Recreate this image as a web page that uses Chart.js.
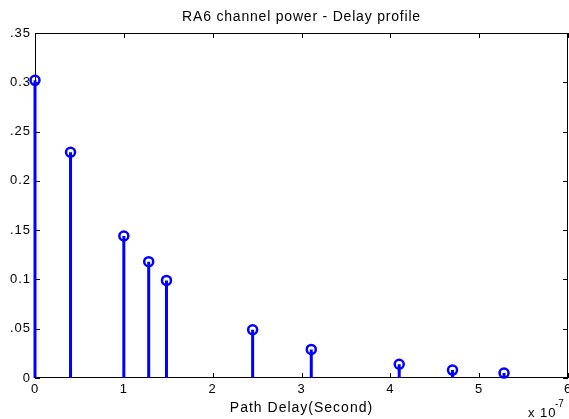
<!DOCTYPE html>
<html lang="en">
<head>
    <meta charset="UTF-8">
    <script src="https://cdn.jsdelivr.net/npm/chart.js@4.4.0/dist/chart.umd.min.js"></script>
    <title>RA6 channel power - Delay profile</title>
    <style>
        html, body {margin: 0; padding: 0; background: #fff;}
        #wrap {width: 569px; height: 419px;}
    </style>
</head>
<body>
    <div id="wrap">
        <canvas id="chart" width="569" height="419"></canvas>
    </div>

    <script>
    // path delays (units of 1e-7 s) and their powers
    const delays = [0, 0.4, 1.0, 1.28, 1.48, 2.45, 3.11, 4.10, 4.70, 5.28];
    const powers = [0.302, 0.229, 0.144, 0.118, 0.099, 0.049, 0.029, 0.014, 0.008, 0.005];

    const yTickLabels = ['0', '.05', '0.1', '.15', '0.2', '.25', '0.3', '.35'];
    const xTickLabels = ['0', '1', '2', '3', '4', '5', '6'];

    const titleText = 'RA6 channel power - Delay profile';
    const xLabelText = 'Path Delay(Second)';

    const FONT = 'Arial, "Liberation Sans", sans-serif';

    // stems: vertical segments separated by null gaps
    let stemData = [];
    let markData = [];
    for (let i = 0; i < delays.length; i++) {
        stemData.push({x: delays[i], y: 0});
        stemData.push({x: delays[i], y: powers[i]});
        stemData.push({x: delays[i], y: null});
        markData.push({x: delays[i], y: powers[i]});
    }

    const frame = {
        id: 'frame',
        beforeDraw(chart) {
            // the source picture is a bit stretched sideways
            chart.ctx.letterSpacing = '1px';
        },
        beforeDatasetsDraw(chart) {
            const c = chart.ctx;
            const a = chart.chartArea;
            const xs = chart.scales.x, ys = chart.scales.y;
            c.save();
            c.strokeStyle = '#000';
            c.lineWidth = 1;
            c.strokeRect(a.left + 0.5, a.top + 0.5, a.right - a.left - 1, a.bottom - a.top - 1);
            c.beginPath();
            xs.ticks.forEach(t => {
                const px = Math.round(xs.getPixelForValue(t.value)) + 0.5;
                c.moveTo(px, a.bottom); c.lineTo(px, a.bottom - 5);
                c.moveTo(px, a.top); c.lineTo(px, a.top + 5);
            });
            ys.ticks.forEach(t => {
                const py = Math.round(ys.getPixelForValue(t.value)) + 0.5;
                c.moveTo(a.left, py); c.lineTo(a.left + 5, py);
                c.moveTo(a.right, py); c.lineTo(a.right - 5, py);
            });
            c.stroke();
            c.restore();
        },
        afterDraw(chart) {
            const c = chart.ctx;
            const a = chart.chartArea;
            const mid = (a.left + a.right) / 2;
            c.save();
            c.fillStyle = '#000';
            c.textAlign = 'center';
            c.textBaseline = 'middle';
            c.font = '14px ' + FONT;
            c.letterSpacing = '0.8px';
            c.fillText(titleText, mid, 17);
            c.letterSpacing = '1px';
            c.fillText(xLabelText, mid, 408);
            c.textAlign = 'left';
            c.font = '13px ' + FONT;
            c.fillText('x 10', 528, 413);
            c.font = '10px ' + FONT;
            c.letterSpacing = '0px';
            c.fillText('-7', 555, 404);
            c.restore();
        }
    };

    const ctx = document.getElementById('chart').getContext('2d');

    const config = {
        type: 'scatter',
        data: {
            datasets: [{
                type: 'line',
                data: stemData,
                borderColor: '#0000ff',
                borderWidth: 3,
                pointRadius: 0,
                spanGaps: false,
                clip: false
            }, {
                data: markData,
                borderColor: '#0000ff',
                backgroundColor: 'rgba(0,0,0,0)',
                borderWidth: 2.5,
                pointRadius: 4.5,
                pointStyle: 'circle',
                clip: false
            }]
        },
        options: {
            responsive: false,
            animation: false,
            events: [],
            layout: {
                autoPadding: false,
                padding: {top: 33, right: 1, left: 0, bottom: 0}
            },
            plugins: {
                legend: {display: false},
                title: {display: false},
                tooltip: {enabled: false}
            },
            scales: {
                x: {
                    type: 'linear',
                    min: 0, max: 6,
                    grid: {display: false, drawTicks: false},
                    border: {display: false},
                    afterFit(s) {
                        s.height = 41;
                        s.paddingLeft = 0;
                        s.paddingRight = 0;
                    },
                    ticks: {
                        stepSize: 1,
                        padding: 4,
                        color: '#000',
                        font: {family: FONT, size: 13},
                        maxRotation: 0,
                        callback: (v, i) => xTickLabels[i]
                    }
                },
                y: {
                    min: 0, max: 0.35,
                    grid: {display: false, drawTicks: false},
                    border: {display: false},
                    afterFit(s) {
                        s.width = 35;
                        s.paddingTop = 0;
                        s.paddingBottom = 0;
                    },
                    ticks: {
                        stepSize: 0.05,
                        padding: 4,
                        color: '#000',
                        font: {family: FONT, size: 13},
                        callback: (v, i) => yTickLabels[i]
                    }
                }
            }
        },
        plugins: [frame]
    };

    let myChart = new Chart(ctx, config);
    </script>
</body>
</html>
